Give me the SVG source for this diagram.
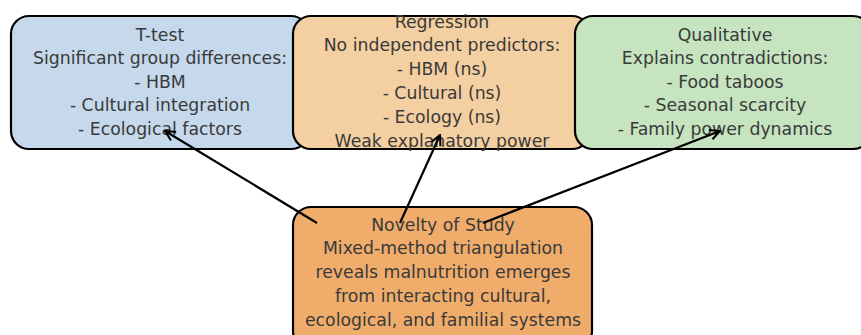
<svg xmlns="http://www.w3.org/2000/svg" width="861" height="335" viewBox="0 0 861 335">
<style>
.box{stroke:#000;stroke-width:2.2}
.t{font-family:"DejaVu Sans",sans-serif;font-size:17.3px;fill:#3a3a3a;text-anchor:middle}
.c{stroke:#000;stroke-width:2.2;fill:none}
</style>
<defs>
<marker id="ah" viewBox="0 0 12 12" refX="11" refY="6" markerWidth="12" markerHeight="12" markerUnits="userSpaceOnUse" orient="auto">
<path d="M1,1 L11,6 L1,11" fill="none" stroke="#000" stroke-width="2"/>
</marker>
</defs>
<rect width="861" height="335" fill="#fff"/>
<g id="ttest">
<rect class="box" x="11" y="16" width="298" height="133" rx="18" fill="#c5d8ec"/>
<text class="t" x="160" y="40.5">T-test</text>
<text class="t" x="160" y="64">Significant group differences:</text>
<text class="t" x="160" y="87.5">- HBM</text>
<text class="t" x="160" y="111">- Cultural integration</text>
<text class="t" x="160" y="134.5">- Ecological factors</text>
</g>
<g id="regression">
<rect class="box" x="293" y="16" width="297" height="133" rx="18" fill="#f4cfa1"/>
<text class="t" x="442" y="27.5">Regression</text>
<text class="t" x="442" y="51.3">No independent predictors:</text>
<text class="t" x="442" y="75.1">- HBM (ns)</text>
<text class="t" x="442" y="98.9">- Cultural (ns)</text>
<text class="t" x="442" y="122.7">- Ecology (ns)</text>
<text class="t" x="442" y="146.5">Weak explanatory power</text>
</g>
<g id="qualitative">
<rect class="box" x="575" y="16" width="296" height="133" rx="18" fill="#c5e4bf"/>
<text class="t" x="725" y="40.5">Qualitative</text>
<text class="t" x="725" y="64">Explains contradictions:</text>
<text class="t" x="725" y="87.5">- Food taboos</text>
<text class="t" x="725" y="111">- Seasonal scarcity</text>
<text class="t" x="725" y="134.5">- Family power dynamics</text>
</g>
<g id="novelty">
<rect class="box" x="293" y="207" width="299" height="142" rx="18" fill="#f0ac6b"/>
<text class="t" x="443" y="230.5">Novelty of Study</text>
<text class="t" x="443" y="254.3">Mixed-method triangulation</text>
<text class="t" x="443" y="278.1">reveals malnutrition emerges</text>
<text class="t" x="443" y="301.9">from interacting cultural,</text>
<text class="t" x="443" y="325.7">ecological, and familial systems</text>
</g>
<g id="connectors">
<line class="c" x1="317" y1="223" x2="165" y2="131" marker-end="url(#ah)"/>
<line class="c" x1="400" y1="223" x2="440" y2="135" marker-end="url(#ah)"/>
<line class="c" x1="483" y1="223" x2="720" y2="131" marker-end="url(#ah)"/>
</g>
</svg>
